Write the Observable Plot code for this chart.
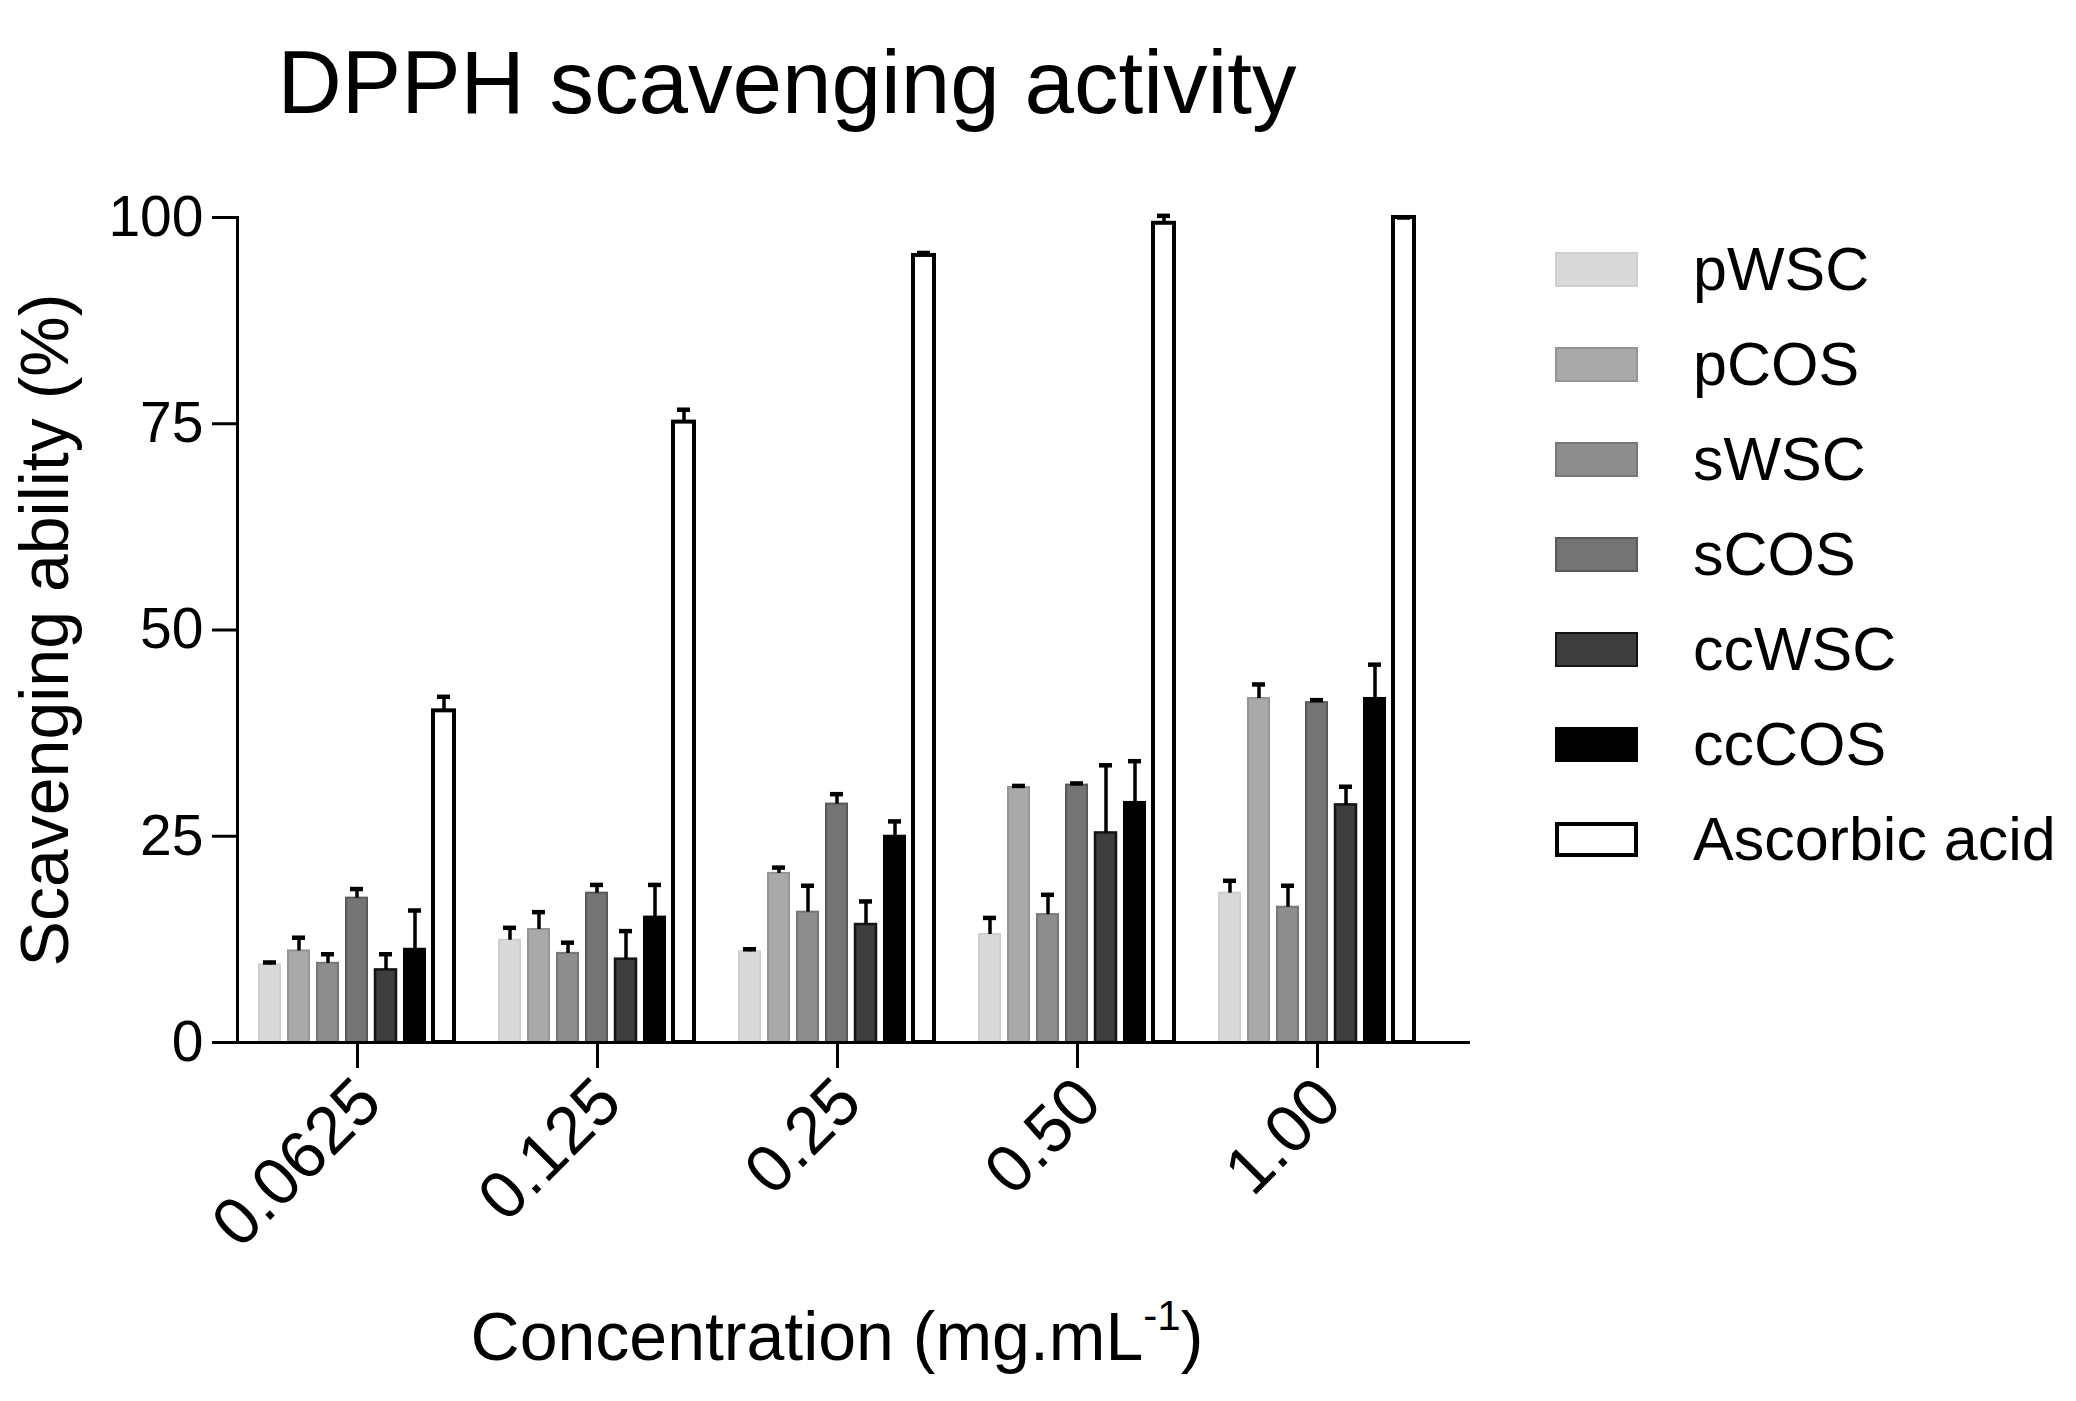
<!DOCTYPE html>
<html>
<head>
<meta charset="utf-8">
<script src="https://cdn.jsdelivr.net/npm/d3@7"></script>
<script src="https://cdn.jsdelivr.net/npm/@observablehq/plot@0.6"></script>
<style>
  html, body { margin: 0; padding: 0; background: #fff; }
  body { font-family: "Liberation Sans", Arial, sans-serif; color: #000; }
  #wrap { position: relative; width: 2076px; height: 1401px; overflow: hidden; background: #fff; }
  #title { position: absolute; left: 0; width: 1574px; top: 38px; text-align: center; font-size: 89px; line-height: 1; white-space: nowrap; }
  #chart { position: absolute; left: 0; top: 150px; }
  #ytitle { position: absolute; left: 43.5px; top: 630px; transform: translate(-50%, -50%) rotate(-90deg); font-size: 68px; line-height: 1; white-space: nowrap; }
  #xtitle { position: absolute; left: 0; width: 1674px; top: 1302px; text-align: center; font-size: 68px; line-height: 1; white-space: nowrap; }
  #xtitle sup { font-size: 0.62em; position: relative; top: -0.15em; vertical-align: super; line-height: 0; }
  #legend { position: absolute; left: 1555px; top: 221.5px; }
  .row { display: flex; align-items: center; height: 95px; }
  .sw { width: 83px; height: 35px; box-sizing: border-box; }
  .lab { margin-left: 55px; font-size: 61px; line-height: 1; white-space: nowrap; }
</style>
</head>
<body>
<div id="wrap">
  <div id="title">DPPH scavenging activity</div>
  <div id="chart"></div>
  <div id="ytitle">Scavenging ability (%)</div>
  <div id="xtitle">Concentration (mg.mL<sup>-1</sup>)</div>
  <div id="legend"></div>
</div>
<script>
// Categories
const concentrations = ["0.0625", "0.125", "0.25", "0.50", "1.00"];
const series = ["pWSC", "pCOS", "sWSC", "sCOS", "ccWSC", "ccCOS", "Ascorbic acid"];
const yTicks = [0, 25, 50, 75, 100];

// Mean values (%) per series, one value per concentration
const pWSC  = [9.4, 12.4, 11.0, 13.1, 18.1];
const pCOS  = [11.1, 13.7, 20.5, 30.9, 41.7];
const sWSC  = [9.6, 10.8, 15.8, 15.5, 16.4];
const sCOS  = [17.5, 18.1, 28.9, 31.2, 41.2];
const ccWSC = [8.8, 10.1, 14.3, 25.4, 28.8];
const ccCOS = [11.3, 15.2, 25.0, 29.1, 41.7];
const ascorbic = [40.2, 75.2, 95.4, 99.3, 100];

// Standard deviations (upper error bars)
const pWSC_sd  = [0.3, 1.5, 0.3, 2.0, 1.5];
const pCOS_sd  = [1.6, 2.1, 0.7, 0.2, 1.7];
const sWSC_sd  = [1.1, 1.3, 3.2, 2.4, 2.6];
const sCOS_sd  = [1.1, 1.0, 1.2, 0.2, 0.3];
const ccWSC_sd = [1.9, 3.4, 2.8, 8.2, 2.2];
const ccCOS_sd = [4.7, 3.9, 1.8, 5.0, 4.1];
const ascorbic_sd = [1.7, 1.5, 0.3, 0.9, 0.0];

// Styles
const fills   = ["#d9d9d9", "#a9a9a9", "#8d8d8d", "#747474", "#3e3e3e", "#000000", "#ffffff"];
const strokes = ["#cfcfcf", "#949494", "#777777", "#5a5a5a", "#151515", "#000000", "#000000"];
const strokeWidths = [2, 2, 2, 2, 2.5, 2, 4];

const means = [pWSC, pCOS, sWSC, sCOS, ccWSC, ccCOS, ascorbic];
const sds = [pWSC_sd, pCOS_sd, sWSC_sd, sCOS_sd, ccWSC_sd, ccCOS_sd, ascorbic_sd];

const fillOf = new Map(series.map((s, i) => [s, fills[i]]));
const strokeOf = new Map(series.map((s, i) => [s, strokes[i]]));
const swOf = new Map(series.map((s, i) => [s, strokeWidths[i]]));

const data = [];
concentrations.forEach((c, ci) => {
  series.forEach((s, si) => {
    data.push({conc: c, series: s, value: means[si][ci], sd: sds[si][ci]});
  });
});

const chart = Plot.plot({
  width: 1500,
  height: 1251,
  marginLeft: 237,
  marginRight: 63,
  marginTop: 67,
  marginBottom: 359,
  style: {fontFamily: "'Liberation Sans', Arial, sans-serif", fontSize: "57px", color: "#000", background: "transparent", overflow: "visible"},
  fx: {domain: concentrations, padding: 0, label: null, axis: null},
  x: {domain: series, paddingInner: 0.27, paddingOuter: 0.703, axis: null},
  y: {domain: [0, 100], label: null, axis: null},
  color: {type: "identity"},
  marks: [
    Plot.barY(data, {
      fx: "conc", x: "series", y: "value",
      fill: d => fillOf.get(d.series),
      stroke: d => strokeOf.get(d.series),
      strokeWidth: d => swOf.get(d.series)
    }),
    Plot.ruleX(data, {fx: "conc", x: "series", y1: "value", y2: d => d.value + d.sd, stroke: "#000", strokeWidth: 3.5}),
    Plot.tickY(data, {fx: "conc", x: "series", y: d => d.value + d.sd, stroke: "#000", strokeWidth: 4.5, insetLeft: 4, insetRight: 4}),
    Plot.ruleY([0], {stroke: "#000", strokeWidth: 3, insetRight: -33}),
    Plot.frame({anchor: "left", facetAnchor: "left", stroke: "#000", strokeWidth: 3}),
    Plot.axisY({ticks: yTicks, tickSize: 25, tickPadding: 9, strokeWidth: 3, fontSize: 57, label: null}),
    // tick marks of the concentration axis
    Plot.axisFx({anchor: "bottom", tickSize: 26, strokeWidth: 3, tickFormat: () => "", label: null}),
    // rotated tick labels of the concentration axis
    Plot.axisFx({anchor: "bottom", tickSize: 0, tickPadding: 48, dx: 12, tickRotate: -45, fontSize: 67, label: null})
  ]
});
document.getElementById("chart").appendChild(chart);

// Legend
const legend = document.getElementById("legend");
series.forEach((s, i) => {
  const row = document.createElement("div");
  row.className = "row";
  const sw = document.createElement("div");
  sw.className = "sw";
  sw.style.background = fills[i];
  sw.style.border = (i === 6 ? "4px solid #000" : "2px solid " + strokes[i]);
  const lab = document.createElement("div");
  lab.className = "lab";
  lab.textContent = s;
  row.appendChild(sw);
  row.appendChild(lab);
  legend.appendChild(row);
});
</script>
</body>
</html>
